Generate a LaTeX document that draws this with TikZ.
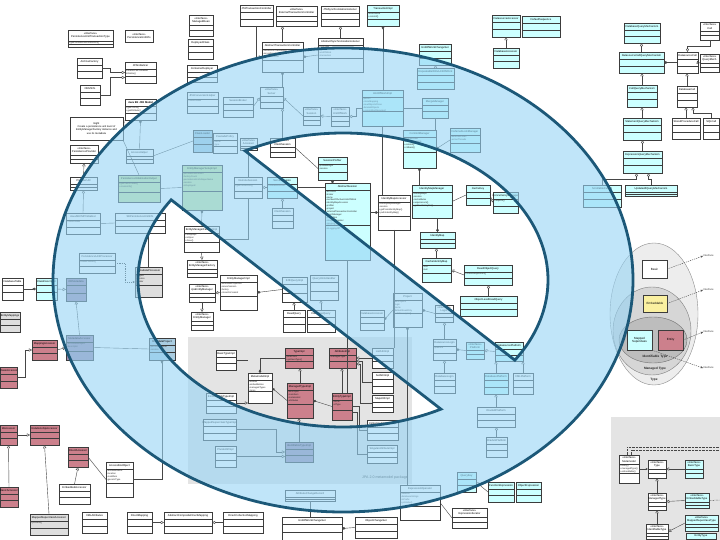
\documentclass[tikz,border=0pt]{standalone}
\usepackage{fontspec}
\setmainfont{Liberation Sans}
\usetikzlibrary{calc,arrows.meta}
\definecolor{cy}{RGB}{204,255,255}
\definecolor{rd}{RGB}{204,128,140}
\definecolor{pu}{RGB}{160,140,175}
\definecolor{gr}{RGB}{200,230,160}
\definecolor{gy}{RGB}{222,222,222}
\definecolor{lb}{RGB}{170,205,225}
\definecolor{yel}{RGB}{250,240,160}
\definecolor{boxline}{RGB}{60,60,60}
\definecolor{linegray}{RGB}{70,70,70}
\definecolor{panelc}{RGB}{228,228,228}
\definecolor{shapefillc}{RGB}{150,212,245}
\definecolor{shapelinec}{RGB}{28,88,120}
\tikzset{
  umlbox/.style={draw=boxline, line width=0.45bp, inner sep=0pt, outer sep=0pt, rectangle},
  umltitle/.style={font=\fontsize{2.7}{3.1}\selectfont, inner sep=0pt, align=center, text=black},
  umlattr/.style={font=\fontsize{2.3}{2.9}\selectfont, inner sep=0pt, align=left, anchor=north west, text=black!85},
  umlsep/.style={draw=boxline, line width=0.4bp},
  conn/.style={draw=linegray, line width=0.4bp},
  gen/.style={conn, -{Triangle[open, length=3.2bp, width=3.2bp]}},
  comp/.style={conn, {Diamond[length=3.6bp, width=2.6bp]}-},
  dep/.style={draw=linegray, line width=0.4bp, dash pattern=on 1.2bp off 1bp, -{Stealth[length=2.4bp, width=2bp]}},
  dotline/.style={draw=linegray, line width=0.5bp, dash pattern=on 0.6bp off 0.8bp},
  setbox/.style={draw=boxline, line width=0.4bp, font=\fontsize{3}{3.4}\selectfont, align=center, inner sep=0.5bp},
  setlabel/.style={font=\bfseries\fontsize{3.2}{3.6}\selectfont, text=black!85, inner sep=0pt},
  sidelabel/.style={font=\fontsize{2.6}{3}\selectfont, text=black!80, inner sep=0.3bp},
  ellA/.style={fill=black!7, draw=black!45, line width=0.4bp},
  ellB/.style={fill=black!16, draw=black!50, line width=0.4bp},
  ellC/.style={fill=black!26, draw=black!55, line width=0.4bp},
  shapefill/.style={fill=shapefillc, fill opacity=0.6},
  shapeline/.style={draw=shapelinec, line width=2.8bp, line join=miter, miter limit=6}
}
\newcommand{\umlcls}[8][7]{%
  \node[umlbox, fill=#7, minimum width=#5bp, minimum height=#6bp] (#2) at ({#3+#5/2},{#4+#6/2}) {};
  \node[umltitle] at ($(#2.north)+(0,{#1/2})$) {#8};
  \draw[umlsep] ($(#2.north west)+(0,#1)$) -- ($(#2.north east)+(0,#1)$);
  \draw[umlsep] ($(#2.north west)+(0,{#1+(#6-#1)/2})$) -- ($(#2.north east)+(0,{#1+(#6-#1)/2})$);
}
\newcommand{\umlbody}[3]{\node[umlattr] at ($(#1.north west)+(1,#2)$) {#3};}
\begin{document}
\begin{tikzpicture}[x=1bp,y=-1bp]
\useasboundingbox (0,0) rectangle (720,540);
\fill[white] (0,0) rectangle (720,540);
\fill[panelc] (188,337) rectangle (412,484);
\fill[panelc] (611,417) rectangle (720,540);
\node[font=\fontsize{3.6}{4}\selectfont, text=black!75, anchor=east, inner sep=0pt] (pkglabel) at (408,478) {JPA 2.0 metamodel package};

% ---------- top left ----------
\umlcls[11]{b1}{68}{30}{45}{17}{white}{«interface»\\PersistenceUnitTransactionType}
\umlbody{b1}{11.5}{+getPersistenceUnitRootUrl()}
\umlcls[12]{b2}{125}{30}{28}{12}{white}{«interface»\\PersistenceUnitInfo}
\umlcls{b3}{77}{58}{25}{20}{white}{ArchiveFactory}
\umlcls{b4}{125}{62}{31}{21}{white}{JPAInitializer}
\umlbody{b4}{7.8}{JavaSECMPInitializer\\initialize()}
\umlcls{b5}{80}{85}{20}{20}{white}{ORMInfo}
\umlcls{b6}{125}{99}{31}{21}{white}{\textbf{Java EE JPA Model}}
\umlbody{b6}{7.8}{+getPUInfo()\\+getAttribute()}
\node[umlbox, fill=white, minimum width=53bp, minimum height=23bp, font=\fontsize{2.6}{3.1}\selectfont, align=center] (n1) at (96.5,128.5) {Eight\\Create a persistence unit level of\\EntityManagerFactory instance and\\use its metadata};
\umlcls[10]{b7}{70}{145}{28}{18}{white}{«interface»\\PersistenceProvider}
\umlcls{b8}{126}{149}{27}{14}{white}{AccessHelper}
\umlcls[10]{b9}{189}{15}{24}{21}{white}{«interface»\\ManagedBean}
\umlcls{b10}{188}{39}{25}{20}{white}{DeployedClass}
\umlcls{b11}{187}{65}{30}{17}{white}{ContainerDeployer}
\umlcls{b12}{187}{92}{31}{21}{white}{JPAConversionHelper}
\umlbody{b12}{7.8}{-classLoader}
\umlcls{b13}{193}{130}{19}{22}{lb}{ClassLoader}
\umlcls{b14}{213}{133}{24}{20}{white}{CascadePolicy}
\umlbody{b14}{7.8}{-name\\-type}
\umlcls{b15}{182}{165}{40}{45}{gr}{EntityManagerSetupImpl}
\umlbody{b15}{7.8}{-persistenceUnitInfo\\-factoryCount\\-persistenceUnitUniqueName\\-session\\-isDeployed}
\umlcls{b16}{118}{175}{42}{27}{gr}{PersistenceInitializationHelper}
\umlbody{b16}{7.8}{+getClassLoader()\\+createInfo()}
\umlcls{b17}{70}{177}{27}{13}{white}{ProviderUtil}
\umlcls{b18}{66}{213}{34}{21}{white}{JavaSECMPInitializer}
\umlbody{b18}{7.8}{-classLoader}
\umlcls{b19}{115}{213}{50}{20}{white}{SEPersistenceUnitInfo}
\umlcls{b20}{79}{253}{36}{20}{white}{PersistenceUnitProcessor}
\umlbody{b20}{7.8}{+buildClasses()}
\umlcls{b21}{135}{267}{27}{30}{gy}{MetadataProcessor}
\umlbody{b21}{7.8}{-project\\-session\\-loader}
\umlcls{b22}{2}{278}{21}{22}{white}{DatabaseTable}
\umlcls{b23}{36}{278}{21}{22}{cy}{ClassDescriptor}
\umlcls{b24}{66}{278}{20}{23}{pu}{ORMetadata}
\umlcls{b25}{0}{312}{20}{20}{gy}{EntityMappings}
\umlcls{b26}{32}{340}{25}{20}{rd}{MappingAccessor}
\umlcls{b27}{66}{335}{27}{25}{pu}{MetadataAccessor}
\umlbody{b27}{7.8}{-accessibleObject\\-descriptor}
\umlcls{b28}{149}{338}{26}{22}{lb}{MetadataProject}
\umlbody{b28}{7.8}{-persistenceUnit\\-session}
\umlcls{b29}{0}{367}{17}{21}{rd}{ClassAccessor}
\umlcls{b30}{0}{425}{17}{20}{rd}{IdAccessor}
\umlcls{b31}{30}{425}{29}{20}{rd}{RelationshipAccessor}
\umlcls{b32}{68}{447}{20}{20}{rd}{DirectAccessor}
\umlcls{b33}{0}{487}{18}{20}{rd}{BasicAccessor}
\umlcls{b34}{59}{484}{31}{20}{white}{EmbeddedAccessor}
\umlcls{b35}{106}{462}{27}{35}{white}{AccessibleObject}
\umlbody{b35}{7.8}{-attributeName\\-location\\-modifiers\\-genericType}
\umlcls{b36}{30}{514}{38}{21}{gy}{MappedSuperclassAccessor}
\umlbody{b36}{7.8}{+process()}
\umlcls{b37}{82}{512}{25}{21}{white}{XMLAttributes}
\umlcls{b38}{127}{512}{25}{21}{white}{DirectMapping}
\umlcls{b39}{164}{512}{48}{21}{white}{AbstractCompositeDirectMapping}
\umlcls{b40}{223}{512}{40}{21}{white}{DirectCollectionMapping}

% ---------- top middle ----------
\umlcls{c1}{240}{5}{33}{21}{white}{JTATransactionController}
\umlcls[10]{c2}{276}{6}{41}{20}{white}{«interface»\\ExternalTransactionController}
\umlcls{c3}{321}{6}{38}{20}{white}{JTASynchronizationListener}
\umlcls{c4}{367}{5}{32}{21}{cy}{TransactionImpl}
\umlbody{c4}{7.8}{-unitOfWork\\+commit()}
\umlcls{c5}{262}{42}{41}{30}{white}{AbstractTransactionController}
\umlbody{c5}{7.8}{-sessionsInTransaction\\-exceptionHandler\\-currentListener}
\umlcls{c6}{318}{38}{45}{34}{white}{AbstractSynchronizationListener}
\umlbody{c6}{7.8}{-controller\\-session\\-unitOfWork\\-transaction}
\umlcls{c7}{362}{90}{41}{36}{cy}{UnitOfWorkImpl}
\umlbody{c7}{7.8}{-parent\\-cloneMapping\\-newObjectsClone\\-deletedObjects\\+commitAndResume()}
\umlcls[9]{c8}{303}{107}{17}{18}{white}{«interface»\\Session}
\umlcls[9]{c9}{331}{107}{18}{19}{white}{«interface»\\UnitOfWork}
\umlcls{c10}{419}{44}{32}{21}{cy}{UnitOfWorkChangeSet}
\umlcls{c11}{417}{68}{37}{21}{cy}{RepeatableWriteUnitOfWork}
\umlcls{c12}{422}{98}{26}{20}{cy}{MergeManager}
\umlcls{c13}{403}{130}{33}{38}{cy}{CommitManager}
\umlbody{c13}{7.8}{-commitOrder\\-shallowCommits\\+commit()\\+rollback()}
\umlcls{c14}{450}{128}{30}{24}{cy}{DeferredLockManager}
\umlbody{c14}{7.8}{-deferredLocks\\-activeThreads}
\umlcls{c15}{318}{157}{29}{23}{cy}{SessionProfiler}
\umlbody{c15}{7.8}{-profileWeight\\-session}
\umlcls[9]{c16}{260}{87}{23}{21}{white}{«interface»\\Server}
\umlcls{c17}{223}{97}{30}{20}{white}{SessionBroker}
\umlcls[9]{c18}{270}{138}{25}{19}{white}{«interface»\\ClientSession}

% ---------- middle ----------
\umlcls[8]{m1}{240}{138}{17}{12}{white}{«interface»\\Accessor}
\umlcls{m2}{234}{177}{28}{21}{white}{RemoteSession}
\umlbody{m2}{7.8}{+getConnection()}
\umlcls{m3}{267}{177}{30}{21}{cy}{ServerSession}
\umlbody{m3}{7.8}{-connectionPool}
\umlcls{m4}{272}{208}{21}{20}{white}{ClientSession}
\umlcls{m5}{184}{226}{35}{26}{white}{EntityManagerFactoryImpl}
\umlbody{m5}{7.8}{+setupImpl\\+isOpen\\+close()}
\umlcls[9]{m6}{187}{260}{30}{17}{white}{«interface»\\EntityManagerFactory}
\umlcls{m7}{220}{275}{37}{35}{white}{EntityManagerImpl}
\umlbody{m7}{7.8}{-extendedProperties\\-serverSession\\-factory\\-closeOnCommit}
\umlcls[9]{m8}{189}{284}{26}{18}{white}{«interface»\\JpaEntityManager}
\umlcls[9]{m9}{191}{312}{22}{18}{white}{«interface»\\EntityManager}
\umlcls{m10}{282}{277}{25}{25}{white}{EJBQueryImpl}
\umlcls{m11}{310}{275}{28}{25}{white}{QueryHintsHandler}
\umlcls{m12}{283}{310}{22}{22}{white}{ReadQuery}
\umlcls{m13}{307}{310}{28}{22}{white}{DatabaseQuery}

% ---------- upper right hole ----------
\umlcls{u1}{325}{183}{45}{77}{cy}{AbstractSession}
\umlbody{u1}{7.8}{-accessor\\-broker\\-name\\-numberOfActiveUnitsOfWork\\-identityMapAccessor\\-profiler\\-project\\-externalTransactionController\\-eventManager\\-properties\\-integrityChecker\\-sessionLog\\-isInProfile\\-isLoggingOff}
\umlcls{u2}{378}{195}{32}{35}{white}{IdentityMapAccessor}
\umlbody{u2}{7.8}{-identityMapManager\\-session\\+getFromIdentityMap()\\+putInIdentityMap()}
\umlcls{u3}{412}{185}{40}{33}{cy}{IdentityMapManager}
\umlbody{u3}{7.8}{-identityMaps\\-session\\-cacheMutex\\+acquireLock()\\+getCacheKeyFor()}
\umlcls{u4}{466}{185}{24}{20}{cy}{CacheKey}
\umlcls{u5}{493}{192}{25}{21}{cy}{ConcurrencyManager}
\umlbody{u5}{7.8}{+acquire()}
\umlcls{u6}{420}{232}{35}{16}{cy}{IdentityMap}
\umlcls{u7}{422}{258}{29}{24}{cy}{CacheIdentityMap}
\umlbody{u7}{7.8}{-first\\-last}
\umlcls{u8}{464}{265}{48}{20}{cy}{ReadObjectQuery}
\umlbody{u8}{7.8}{+checkEarlyReturn()}
\umlcls{u9}{460}{296}{57}{20}{cy}{ObjectLevelReadQuery}
\umlcls{u10}{393}{293}{29}{34}{white}{Project}
\umlbody{u10}{7.8}{-descriptors\\-login\\-name\\-defaultReadOnly\\+addDescriptor()}
\umlcls[8]{u11}{435}{305}{18}{17}{white}{«interface»\\Login}
\umlcls{u12}{360}{310}{24}{20}{white}{DatabaseAccessor}
\umlcls{u13}{433}{339}{23}{21}{white}{DatasourceLogin}
\umlbody{u13}{7.8}{-platform}
\umlcls[8]{u14}{466}{342}{18}{17}{cy}{«interface»\\Platform}
\umlcls{u15}{495}{342}{28}{19}{cy}{DatasourcePlatform}
\umlcls{u16}{434}{373}{21}{20}{white}{DatabaseLogin}
\umlcls{u17}{484}{373}{24}{21}{cy}{DatabasePlatform}
\umlcls{u18}{513}{373}{20}{21}{white}{XMLPlatform}
\umlcls{u19}{477}{407}{38}{20}{white}{Oracle8Platform}
\umlcls{u20}{486}{437}{21}{20}{white}{Oracle9Platform}

% ---------- bottom ----------
\umlcls{e1}{457}{472}{19}{20}{cy}{QueryKey}
\umlcls{e2}{488}{482}{26}{20}{cy}{FunctionExpression}
\umlcls{e3}{516}{482}{25}{20}{cy}{ObjectExpression}
\umlcls{e4}{400}{485}{40}{35}{white}{ExpressionOperator}
\umlbody{e4}{7.8}{-selector\\-databaseStrings\\-isPrefix\\+printsAs()}
\umlcls[9]{e5}{452}{508}{35}{20}{white}{«interface»\\ExpressionIterator}
\umlcls{e6}{282}{517}{60}{23}{white}{UnitOfWorkChangeSet}
\umlcls{e7}{355}{517}{42}{21}{white}{ObjectChangeSet}
\umlcls{e8}{285}{490}{50}{11}{white}{AttributeChangeRecord}

% ---------- gray metamodel panel ----------
\umlcls{g1}{216}{350}{20}{20}{white}{BasicTypeImpl}
\umlcls{g2}{285}{348}{28}{20}{rd}{TypeImpl}
\umlbody{g2}{7.8}{-javaClass\\+getJavaType()}
\umlcls{g3}{329}{348}{27}{20}{rd}{AttributeImpl}
\umlbody{g3}{7.8}{-managedType}
\umlcls{g4}{248}{373}{24}{30}{white}{MetamodelImpl}
\umlbody{g4}{7.8}{-entities\\-embeddables\\-managedTypes\\-types}
\umlcls{g5}{287}{383}{26}{35}{rd}{ManagedTypeImpl}
\umlbody{g5}{7.8}{-descriptor\\-members\\-metamodel\\-attributes}
\umlcls{g6}{332}{393}{20}{27}{rd}{EntityTypeImpl}
\umlbody{g6}{7.8}{-name\\-idType}
\umlcls{g7}{206}{393}{30}{20}{white}{EmbeddableTypeImpl}
\umlcls{g8}{203}{419}{33}{21}{white}{MappedSuperclassTypeImpl}
\umlcls{g9}{285}{442}{28}{20}{pu}{IdentifiableTypeImpl}
\umlcls{g10}{215}{446}{21}{21}{white}{PluralAttrImpl}
\umlcls{g11}{372}{348}{21}{20}{white}{ListAttrImpl}
\umlcls{g12}{372}{372}{21}{21}{white}{SetAttrImpl}
\umlcls{g13}{372}{395}{21}{17}{white}{MapAttrImpl}
\umlcls{g14}{367}{420}{31}{20}{white}{CollectionAttributeImpl}
\umlcls{g15}{367}{445}{30}{18}{white}{SingularAttributeImpl}

% ---------- top right ----------
\umlcls{r1}{492}{15}{28}{22}{cy}{DatasourceAccessor}
\umlcls{r2}{522}{16}{38}{21}{cy}{DefaultSequence}
\umlcls{r3}{493}{48}{26}{20}{cy}{DatabaseAccessor}
\umlcls{r4}{624}{23}{36}{20}{cy}{DatabaseQueryMechanism}
\umlcls{r5}{619}{52}{45}{21}{cy}{DatasourceCallQueryMechanism}
\umlcls{r6}{677}{52}{21}{21}{white}{DatasourceCall}
\umlcls[9]{r7}{700}{22}{19.5}{18}{white}{«interface»\\Call}
\umlcls[9]{r8}{700}{54}{19.5}{18}{white}{«interface»\\QueryMech.}
\umlcls{r9}{627}{85}{30}{22}{cy}{CallQueryMechanism}
\umlcls{r10}{677}{86}{20}{21}{white}{DatabaseCall}
\umlcls{r11}{623}{118}{38}{22}{cy}{StatementQueryMechanism}
\umlcls{r12}{672}{118}{28}{21}{white}{StoredProcedureCall}
\umlcls{r13}{703}{118}{16.5}{21}{white}{SQLCall}
\umlcls{r14}{623}{151}{39}{22}{cy}{ExpressionQueryMechanism}
\umlcls{r15}{583}{185}{38}{22}{cy}{ScrollableCursor}
\umlcls{r16}{625}{185}{52}{11}{cy}{UpdateAllQueryMechanism}

% ---------- bottom right panel ----------
\umlcls[9]{mm}{619}{455}{20}{28}{white}{«interface»\\Metamodel}
\umlbody{mm}{9.5}{+entity()\\+managedType()\\+embeddable()}
\umlcls[9]{tp}{648}{460}{18}{18}{white}{«interface»\\Type}
\umlcls[9]{bt}{685}{460}{18}{18}{cy}{«interface»\\BasicType}
\umlcls[9]{mt}{648}{493}{18}{17}{white}{«interface»\\ManagedType}
\umlcls[9]{emb}{685}{493}{24}{15}{cy}{«interface»\\EmbeddableType}
\umlcls[9]{mst}{685}{515}{33}{16}{cy}{«interface»\\MappedSuperclassType}
\umlcls[9]{it}{646}{524}{22}{15.5}{white}{«interface»\\IdentifiableType}
\umlcls[6]{et}{686}{533}{30}{6.5}{cy}{EntityType}
\coordinate (dtop) at (720,447);
\coordinate (dtop2) at (720,450);
\coordinate (dright) at (720,500);

% ---------- connectors ----------
\draw[gen] (b3.east) -- ++(8,0) |- (b4.west);
\draw[gen] (b5.east) -- ++(10,0) |- ($(b4.west)+(0,5)$);
\draw[conn, dash pattern=on 1bp off 1bp] (n1.east) -- (b6.south west);
\draw[gen] (b17.north) -- (b7.south);
\draw[comp] (b6.south) -- (b8.north);
\draw[conn] (b8.east) -- (b13.west);
\draw[conn] (n1.south east) -- (b16.north);
\draw[conn] (b16.east) -- (b15.west);
\draw[comp] (b15.south) -- (m5.north);
\draw[conn] (b18.east) -- (b19.west);
\draw[gen] (b18.north) -- (b17.south);
\draw[dep] (b20.east) -- ++(10,0) |- (b21.west);
\draw[comp] (b23.west) -- (b22.east);
\draw[gen] (b23.east) -- (b24.west);
\draw[gen] (b27.north) -- (b24.south);
\draw[gen] (b26.east) -- (b27.west);
\draw[conn] (b27.east) -- (b28.west);
\draw[gen] (b29.east) -- ++(8,0) |- (b26.west);
\draw[gen] (b30.east) -- (b31.west);
\draw[gen] (b33.north) -- (b30.south);
\draw[gen] (b34.north) -- (b32.south);
\draw[conn] (b32.east) -- (b35.west);
\draw[gen] (b36.north) -- (b31.south);
\draw[gen] (b38.east) -- (b39.west);
\draw[gen] (b40.west) -- (b39.east);
\draw[comp] (b28.south) |- (b35.east);
\draw[conn] (b21.north) -- (b21.north |- b19.south);

\draw[gen] (c1.south) |- (c5.west);
\draw[gen] (c5.north) -- (c5.north |- c2.south);
\draw[gen] (c6.north) -- (c6.north |- c3.south);
\draw[comp] (c5.east) -- (c6.west);
\draw[gen] (c7.west) -- ++(-6,0) |- (c9.east);
\draw[gen] (c9.west) -- (c8.east);
\draw[gen] (c8.west) -- (c16.east);
\draw[comp] (c5.south) -- (c5.south |- c16.north);
\draw[comp] (c4.south) -- (c4.south |- c7.north);
\draw[conn] (c7.east) -- (c12.west);
\draw[gen] (c11.north) -- (c11.north |- c10.south);
\draw[conn] (c12.south) -- (c12.south |- c13.north);
\draw[comp] (c13.east) -- (c14.west);
\draw[conn] (c7.south) -- (c7.south |- u2.north);
\draw[comp] (c13.south) -- (c13.south |- u3.north);
\draw[gen] (c17.east) -- (c16.west);
\draw[gen] (c18.north) -- (c18.north |- c16.south);
\draw[conn] (c15.west) -- (c18.east);
\draw[comp] (c15.south) -- (c15.south |- u1.north);
\draw[conn] (b13.east) -- (b14.west);

\draw[gen] (m3.west) -- (m2.east);
\draw[gen] (m4.north) -- (m4.north |- m3.south);
\draw[conn] (m2.north) -- (m2.north |- m1.south);
\draw[conn] (m5.east) -| (m2.south);
\draw[gen] (m7.west) -- (m8.east);
\draw[gen] (m8.south) -- (m9.north);
\draw[gen] (m5.south) -- (m6.north);
\draw[comp] (m7.east) -- (m10.west);
\draw[gen] (m12.north) -- (m12.north |- m10.south);
\draw[gen] (m13.north) -- (m13.north |- m11.south);
\draw[conn] (m3.east) -- (m3.east -| u1.west);

\draw[comp] (u2.west) -- (u2.west -| u1.east);
\draw[conn] (u3.east) -- (u4.west);
\draw[gen] (u4.east) -- (u5.west);
\draw[gen] (u7.north) -- (u7.north |- u6.south);
\draw[comp] (u6.north) -- (u6.north |- u3.south);
\draw[gen] (u8.west) -- (u7.east);
\draw[gen] (u9.north) -- (u9.north |- u8.south);
\draw[comp] (u10.east) -- (u11.west);
\draw[gen] (u13.north) -- (u13.north |- u11.south);
\draw[comp] (u13.east) -- (u14.west);
\draw[gen] (u15.west) -- (u14.east);
\draw[gen] (u16.north) -- (u16.north |- u13.south);
\draw[gen] (u17.north) -- (u17.north |- u15.south);
\draw[gen] (u18.north) -- (u18.north |- u15.south);
\draw[gen] (u19.north) -- (u19.north |- u17.south);
\draw[gen] (u20.north) -- (u20.north |- u19.south);
\draw[comp] (u12.east) -- (u10.west);
\draw[conn] (u1.south) -- (u1.south |- g6.north);
\draw[comp] (u10.south) -- (u10.south |- e4.north);
\draw[gen] (e2.west) -- (e1.east);
\draw[conn] (e4.east) -- (e5.west);
\draw[conn] (e8.south) -- (e8.south |- e6.north);
\draw[comp] (e6.east) -- (e7.west);
\draw[conn] (u2.south) -- (u2.south |- g11.north);

\draw[gen] (g5.north) -- (g5.north |- g2.south);
\draw[gen] (g6.north) -- (g6.north |- g3.south);
\draw[comp] (g4.east) -- (g5.west);
\draw[comp] (g4.north) |- (g2.west);
\draw[comp] (g5.east) -- (g6.west);
\draw[gen] (g9.north) -- (g9.north |- g5.south);
\draw[gen] (g8.east) -- ++(40,0) |- (g9.west);
\draw[gen] (g10.east) -- (g10.east -| g9.west);
\draw[gen] (g7.east) -- (g7.east -| g4.west);
\draw[gen] (g11.west) -- (g3.east);
\draw[gen] (g12.west) -- ++(-10,0) |- ($(g3.east)+(0,3)$);
\draw[gen] (g13.west) -- ++(-12,0) |- ($(g3.east)+(0,6)$);
\draw[conn] (g14.west) -- ++(-8,0) |- (g6.east);
\draw[conn] (g15.west) -- ++(-10,0) |- ($(g6.east)+(0,6)$);
\draw[conn] (g1.east) -- (g1.east -| g4.west);

\draw[gen] (r3.north) -- (r3.north |- r1.south);
\draw[gen] (r5.north) -- (r5.north |- r4.south);
\draw[comp] (r5.east) -- (r6.west);
\draw[gen] (r6.east) -- (r8.west);
\draw[gen] (r9.north) -- (r9.north |- r5.south);
\draw[gen] (r10.north) -- (r10.north |- r6.south);
\draw[gen] (r11.north) -- (r11.north |- r9.south);
\draw[gen] (r12.north) -- (r12.north |- r10.south);
\draw[gen] (r13.north) -- ++(0,-5) -| ($(r10.south)+(6,0)$);
\draw[gen] (r14.north) -- (r14.north |- r11.south);
\draw[gen] (r15.north) -- ++(0,-6) -| ($(r14.south)+(-6,0)$);
\draw[gen] (r16.north) -- ++(0,-6) -| ($(r14.south)+(6,0)$);
\draw[gen] (r7.south) -- ++(0,6) -| (r6.north);

\draw[gen] (bt.west) -- (tp.east);
\draw[gen] (mt.north) -- (tp.south);
\draw[gen] (emb.west) -- (mt.east);
\draw[gen] (it.north) -- (mt.south);
\draw[gen] (mst.west) -- (it.east);
\draw[conn, -{Stealth[length=2.4bp, width=2bp]}] (mm.east) -- (tp.west);
\draw[dotline] ($(mm.north)+(-2,0)$) |- (dtop);
\draw[dotline] ($(mm.north)+(2,0)$) |- (dtop2);
\draw[dotline] (emb.east) -- (dright);

% ---------- nested sets ----------
\filldraw[ellA] (654,314) ellipse [x radius=44, y radius=71];
\filldraw[ellB] (652,331) ellipse [x radius=39, y radius=44];
\filldraw[ellC] (653,340) ellipse [x radius=34, y radius=23];
\node[setbox, fill=white, minimum width=25bp, minimum height=18bp] (basic) at (654.5,269) {Basic};
\node[setbox, fill=yel, minimum width=24bp, minimum height=17bp] (embd) at (655,303.5) {Embeddable};
\node[setbox, fill=cy, minimum width=25bp, minimum height=20bp] (msc) at (639.5,340) {Mapped\\Superclass};
\node[setbox, fill=rd, minimum width=25bp, minimum height=20bp] (ent) at (670.5,340) {Entity};
\node[setlabel] (lid) at (655,356.5) {Identifiable Type};
\node[setlabel] (lman) at (655,369) {Managed Type};
\node[setlabel] (ltype) at (654,380) {Type};
\node[sidelabel, anchor=west] (i1) at (703,256) {Interface};
\node[sidelabel, anchor=west] (i2) at (703,290) {Interface};
\node[sidelabel, anchor=west] (i3) at (703,332) {Interface};
\node[sidelabel, anchor=west] (i4) at (703,368) {Interface};
\draw[dep] (basic.east) -- (i1.west);
\draw[dep] (embd.east) -- (i2.west);
\draw[dep] (ent.east) -- (i3.west);
\draw[dep] (msc.south east) -- (i4.west);

% ---------- prohibition shape ----------
\fill[shapefill, even odd rule] (343,280) ellipse [x radius=290, y radius=232]
  plot[domain=241.47:393.05, samples=90, variable=\t] ({343+205*cos(\t)},{280+147*sin(\t)}) -- cycle
  plot[domain=61.47:213.05, samples=90, variable=\t] ({343+205*cos(\t)},{280+147*sin(\t)}) -- cycle;
\draw[shapeline] (343,280) ellipse [x radius=290, y radius=232];
\draw[shapeline] plot[domain=241.47:393.05, samples=90, variable=\t] ({343+205*cos(\t)},{280+147*sin(\t)}) -- cycle;
\draw[shapeline] plot[domain=61.47:213.05, samples=90, variable=\t] ({343+205*cos(\t)},{280+147*sin(\t)}) -- cycle;
\end{tikzpicture}
\end{document}
